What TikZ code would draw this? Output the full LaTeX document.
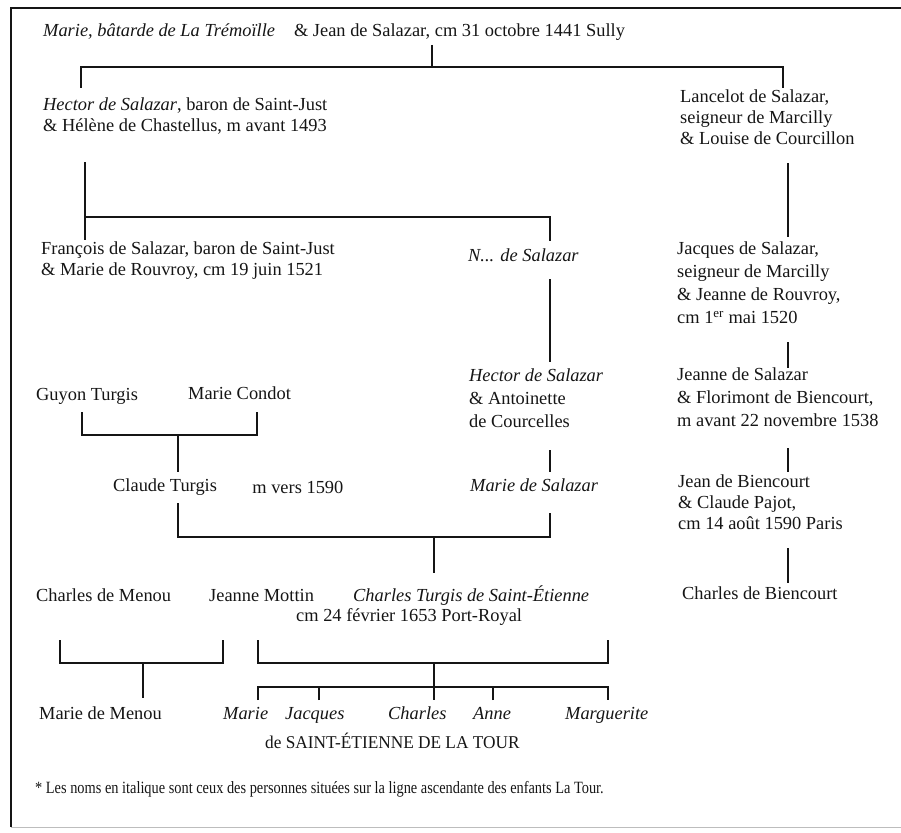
\documentclass[tikz,border=0pt]{standalone}
\usepackage{fontspec}
\setmainfont{Liberation Serif}
\newfontfamily\narrowfont{Liberation Serif}[FakeStretch=0.835]
\newfontfamily\capsfont{Liberation Serif}[FakeStretch=0.96]
\usepackage{xcolor}
\usetikzlibrary{positioning}
\definecolor{INK}{HTML}{151515}
\definecolor{SCAN}{HTML}{BDBDBD}

\begin{document}
\begin{tikzpicture}[
    x=1pt, y=-1pt,
    font=\fontsize{18.4}{21}\selectfont,
    nm/.style={anchor=north west, inner sep=0pt, align=left, text=INK,
      execute at begin node={\rule{0pt}{16pt}}},
    wide/.style={nm, font=\fontsize{18.4}{23}\selectfont},
    kid/.style={nm, font=\fontsize{18.4}{21}\selectfont\itshape},
    tie/.style={draw=INK, line width=2.2pt},
  ]
  \useasboundingbox (0,0) rectangle (901,832);

  % frame, cut off by the scan on the right
  \draw[INK, line width=1.8pt] (901,8) -- (11,8) -- (11,827);
  \draw[SCAN, line width=0.8pt] (11,827) -- (901,827);

  % people
  \node[nm] (root) at (43,20)
    {\textit{Marie, bâtarde de La Trémoïlle}\hspace{19pt}\& Jean de Salazar, cm 31 octobre 1441 Sully};
  \node[nm] (hector) at (43,98)
    {\textit{Hector de Salazar}, baron de Saint-Just\\ \& Hélène de Chastellus, m avant 1493};
  \node[nm] (lancelot) at (680,90)
    {Lancelot de Salazar,\\ seigneur de Marcilly\\ \& Louise de Courcillon};
  \node[nm] (francois) at (41,242)
    {François de Salazar, baron de Saint-Just\\ \& Marie de Rouvroy, cm 19 juin 1521};
  \node[nm] (nsal) at (468,245) {\textit{N... de Salazar}};
  \node[wide] (jacques) at (677,242)
    {Jacques de Salazar,\\ seigneur de Marcilly\\ \& Jeanne de Rouvroy,\\ cm 1\textsuperscript{er} mai 1520};
  \node[nm] (guyon) at (36,384) {Guyon Turgis};
  \node[nm] (condot) at (188,383) {Marie Condot};
  \node[wide] (hector2) at (469,369)
    {\textit{Hector de Salazar}\\ \& Antoinette\\ de Courcelles};
  \node[wide] (jeanne) at (677,368)
    {Jeanne de Salazar\\ \& Florimont de Biencourt,\\ m avant 22 novembre 1538};
  \node[nm] (claude) at (113,475) {Claude Turgis};
  \node[nm, right=35pt of claude] (claudem) {m vers 1590};
  \node[nm] (mariesal) at (470,475) {\textit{Marie de Salazar}};
  \node[nm] (jeanb) at (678,475)
    {Jean de Biencourt\\ \& Claude Pajot,\\ cm 14 août 1590 Paris};
  \node[nm] (charlesb) at (682,583) {Charles de Biencourt};
  \node[nm] (menou) at (36,585) {Charles de Menou};
  \node[nm] (mottin) at (209,585) {Jeanne Mottin};
  \node[nm] (cturgis) at (353,585) {\textit{Charles Turgis de Saint-Étienne}};
  \node[nm] (cmturgis) at (296,605) {cm 24 février 1653 Port-Royal};
  \node[nm] (mmenou) at (39,703) {Marie de Menou};

  % the La Tour children
  \foreach \nm/\x [count=\k] in {Marie/223, Jacques/285, Charles/388, Anne/473, Marguerite/565}
    \node[kid] (kid\k) at (\x,703) {\nm};
  \node[nm, font=\fontsize{18}{20}\capsfont] (latour) at (265,732) {de SAINT-ÉTIENNE DE LA TOUR};

  \node[nm, font=\fontsize{17.2}{20}\narrowfont] (note) at (35,777)
    {* Les noms en italique sont ceux des personnes situées sur la ligne ascendante des enfants La Tour.};

  % bracket points
  \coordinate (r0) at (432,45);  \coordinate (r1) at (432,67);
  \coordinate (a1) at (81,88);   \coordinate (a2) at (81,67);
  \coordinate (a3) at (783,67);  \coordinate (a4) at (783,88);
  \coordinate (h0) at (85,162);  \coordinate (h1) at (85,240);
  \coordinate (h2) at (85,217);  \coordinate (h3) at (550,217);  \coordinate (h4) at (550,241);
  \coordinate (m0) at (788,163); \coordinate (m1) at (788,237);
  \coordinate (m2) at (788,342); \coordinate (m3) at (788,368);
  \coordinate (m4) at (788,448); \coordinate (m5) at (788,472);
  \coordinate (m6) at (788,548); \coordinate (m7) at (788,583);
  \coordinate (s0) at (550,279); \coordinate (s1) at (550,362);
  \coordinate (s2) at (550,450); \coordinate (s3) at (550,472);
  \coordinate (t0) at (82,412);  \coordinate (t1) at (82,435);
  \coordinate (t2) at (257,435); \coordinate (t3) at (257,412);
  \coordinate (t4) at (178,435); \coordinate (t5) at (178,472);
  \coordinate (c0) at (178,503); \coordinate (c1) at (178,537);
  \coordinate (c2) at (550,537); \coordinate (c3) at (550,513);
  \coordinate (c4) at (434,537); \coordinate (c5) at (434,573);
  \coordinate (u0) at (60,640);  \coordinate (u1) at (60,663);
  \coordinate (u2) at (223,663); \coordinate (u3) at (223,640);
  \coordinate (u4) at (143,663); \coordinate (u5) at (143,698);
  \coordinate (v0) at (258,640); \coordinate (v1) at (258,663);
  \coordinate (v2) at (608,663); \coordinate (v3) at (608,640);
  \coordinate (v4) at (434,663); \coordinate (v5) at (434,700);
  \coordinate (kb) at (258,687);
  \foreach \x [count=\k] in {258,319,434,493,608}
    \coordinate (d\k) at (\x,700);

  % descent lines
  \draw[tie] (r0) -- (r1);
  \draw[tie] (a1) -- (a2) -- (a3) -- (a4);
  \draw[tie] (h0) -- (h1);
  \draw[tie] (h2) -- (h3) -- (h4);
  \foreach \a/\b in {m0/m1, m2/m3, m4/m5, m6/m7, s0/s1, s2/s3, t4/t5, c4/c5, u4/u5, v4/v5}
    \draw[tie] (\a) -- (\b);
  \draw[tie] (t0) -- (t1) -- (t2) -- (t3);
  \draw[tie] (c0) -- (c1) -- (c2) -- (c3);
  \draw[tie] (u0) -- (u1) -- (u2) -- (u3);
  \draw[tie] (v0) -- (v1) -- (v2) -- (v3);
  \draw[tie] (d1) -- (kb) -- (kb -| d5) -- (d5);
  \foreach \k in {2,4}
    \draw[tie] (d\k) -- (d\k |- kb);

\end{tikzpicture}
\end{document}
